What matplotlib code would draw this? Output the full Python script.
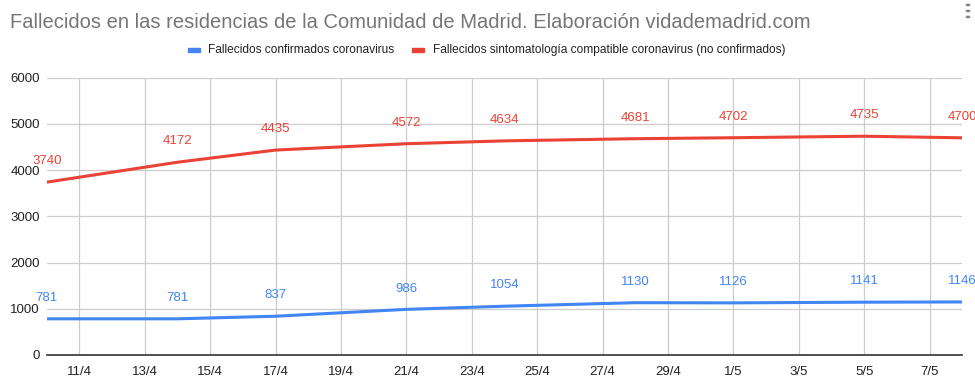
"""
Fallecidos en residencias de la Comunidad de Madrid, estilo Google Sheets.
Saved to out.png
"""
import numpy as np
import matplotlib
matplotlib.use("Agg")
import matplotlib.pyplot as plt
import matplotlib.dates as mdates
from matplotlib.patches import Rectangle

FECHAS = ["2020-04-10", "2020-04-14", "2020-04-17", "2020-04-21", "2020-04-24",
          "2020-04-28", "2020-05-01", "2020-05-05", "2020-05-08"]
CONFIRMADOS = [781, 781, 837, 986, 1054, 1130, 1126, 1141, 1146]
SINTOMAS = [3740, 4172, 4435, 4572, 4634, 4681, 4702, 4735, 4700]
SERIES = ["Fallecidos confirmados coronavirus",
          "Fallecidos sintomatología compatible coronavirus (no confirmados)"]
TITULO = "Fallecidos en las residencias de la Comunidad de Madrid. Elaboración vidademadrid.com"

AZUL, ROJO, GRIS = "#4285f4", "#ea4335", "#757575"
plt.rcParams["font.family"] = ["Liberation Sans", "DejaVu Sans"]

x = np.array(FECHAS, dtype="datetime64[D]")
fig = plt.figure(figsize=(9.75, 3.87), dpi=100)
ax = fig.add_axes([0.048, 0.083, 0.939, 0.716])

for vals, col in ((CONFIRMADOS, AZUL), (SINTOMAS, ROJO)):
    ax.plot(x, vals, color=col, lw=2.2, solid_capstyle="butt", zorder=3)
    for xi, v in zip(x, vals):
        ax.annotate(f"{v}", (xi, v), textcoords="offset points", xytext=(0, 15),
                    ha="center", va="center", fontsize=9.5, color=col, zorder=4,
                    annotation_clip=False)

ax.set_xlim(np.datetime64("2020-04-10"), np.datetime64("2020-05-08"))
ax.set_ylim(0, 6000)
ax.set_yticks(range(0, 6001, 1000))
ax.set_xticks(np.arange(np.datetime64("2020-04-11"), np.datetime64("2020-05-08"), 2))
ax.xaxis.set_major_formatter(mdates.DateFormatter("%-d/%-m"))
ax.tick_params(length=0, labelsize=9.5, labelcolor="#222222")
ax.tick_params(axis="y", pad=5)
ax.tick_params(axis="x", pad=8)
ax.grid(color="#cccccc", lw=0.9)
ax.set_axisbelow(True)
for s in ("top", "right", "left"):
    ax.spines[s].set_visible(False)
ax.spines["bottom"].set_color("#333333"); ax.spines["bottom"].set_linewidth(1.2)
ax.spines["bottom"].set_zorder(5)

fig.text(0.0105, 0.943, TITULO, fontsize=14.5, color=GRIS, va="center", ha="left")

# leyenda
fig.patches.append(Rectangle((188/975, 1-52/387), 12/975, 4/387, color=AZUL, transform=fig.transFigure))
fig.text(208/975, 1-50/387, SERIES[0], fontsize=8.6, color="#222222", va="center")
fig.patches.append(Rectangle((412/975, 1-52/387), 12/975, 4/387, color=ROJO, transform=fig.transFigure))
fig.text(433/975, 1-50/387, SERIES[1], fontsize=8.6, color="#222222", va="center")

# menu
for yy in (5, 11, 17):
    fig.patches.append(plt.Circle((968/975, 1-yy/387), 1.7/975, color="#888888",
                                  transform=fig.transFigure))

fig.savefig("out.png", dpi=100)
